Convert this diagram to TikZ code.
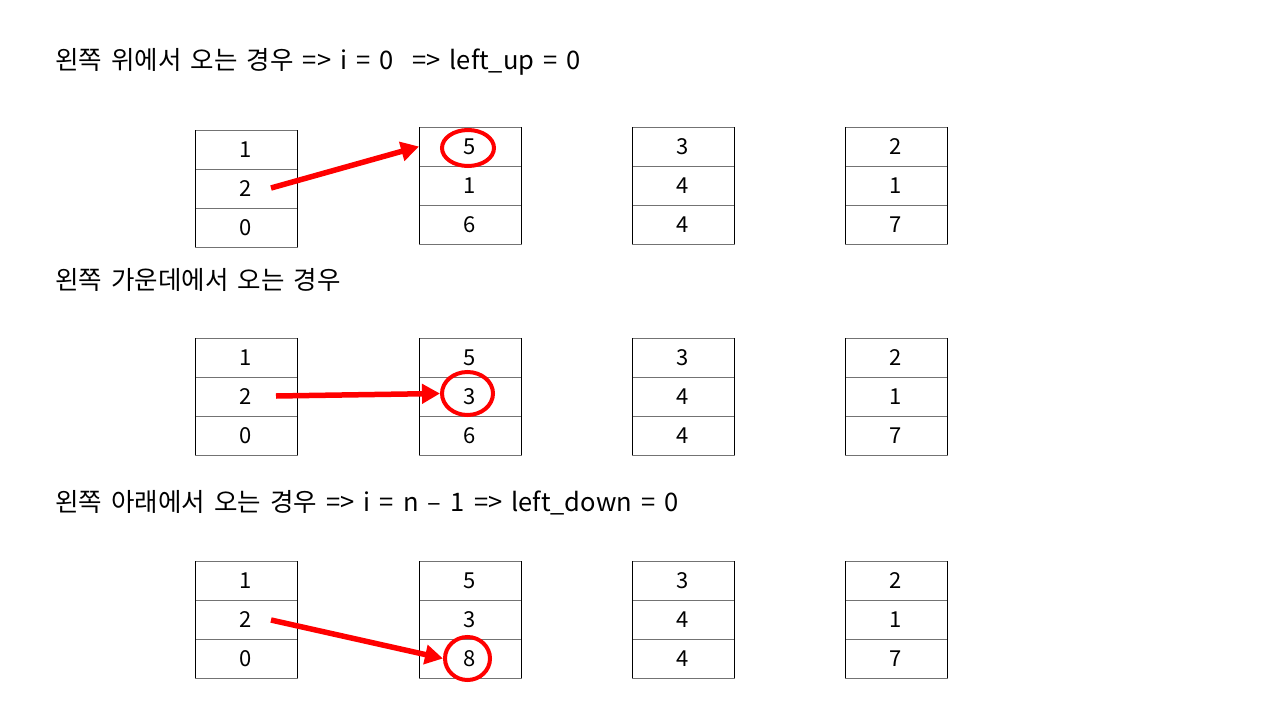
\documentclass[tikz,border=0pt]{standalone}
\usepackage{fontspec}
\setmainfont{Noto Sans CJK KR}[WordSpace=1.6]
\usetikzlibrary{positioning,shapes.geometric,arrows.meta}

\begin{document}
\begin{tikzpicture}[x=1pt, y=-1pt]
\tikzstyle{cell}=[draw=black!55, line width=1pt, outer sep=0pt, minimum width=102pt,
                  minimum height=39pt, inner sep=0pt, font=\fontsize{22}{26}\selectfont]
\tikzstyle{ttl}=[anchor=west, inner sep=0pt, font=\fontsize{25.5}{30}\selectfont]
\tikzstyle{ring}=[ellipse, draw=red, line width=4pt, inner sep=0pt]
\tikzstyle{pick}=[draw=red, line width=5.5pt, -{Triangle[length=18pt, width=19pt]}]
\useasboundingbox (0,0) rectangle (1280,720);
% titles
\node[ttl] (t1) at (55,62) {왼쪽 위에서 오는 경우 => i = 0 \ => left\_up = 0};
\node[ttl] (t2) at (55,280) {왼쪽 가운데에서 오는 경우};
\node[ttl] (t3) at (55,503) {왼쪽 아래에서 오는 경우 => i = n – 1 => left\_down = 0};
% stacks: name/x/y of top cell/values
\foreach \n/\x/\y/\a/\b/\c in {a1/246/149.5/1/2/0, b1/470/146.5/5/1/6, c1/683/146.5/3/4/4, d1/896/146.5/2/1/7,
                               a2/246/357.5/1/2/0, b2/470/357.5/5/3/6, c2/683/357.5/3/4/4, d2/896/357.5/2/1/7,
                               a3/246/580.5/1/2/0, b3/470/580.5/5/3/8, c3/683/580.5/3/4/4, d3/896/580.5/2/1/7}{
  \node[cell] (\n-1) at (\x,\y) {\a};
  \node[cell, below=0pt of \n-1] (\n-2) {\b};
  \node[cell, below=0pt of \n-2] (\n-3) {\c};
  \draw[line width=1pt] (\n-1.north west) -- (\n-3.south west) (\n-1.north east) -- (\n-3.south east);
}
% circled targets
\node[ring, minimum width=52pt, minimum height=36pt] (r1) at (468,148) {};
\node[ring, minimum width=51pt, minimum height=43pt] (r2) at (467.5,393.5) {};
\node[ring, minimum width=45pt, minimum height=43pt] (r3) at (467.5,658.5) {};
% arrows
\coordinate (s1) at (271,188);
\coordinate (s2) at (276,396);
\coordinate (s3) at (271,620);
\draw[pick] (s1) -- (b1-1.west);
\draw[pick] (s2) -- (r2.west);
\draw[pick] (s3) -- (r3.west);
\end{tikzpicture}
\end{document}
